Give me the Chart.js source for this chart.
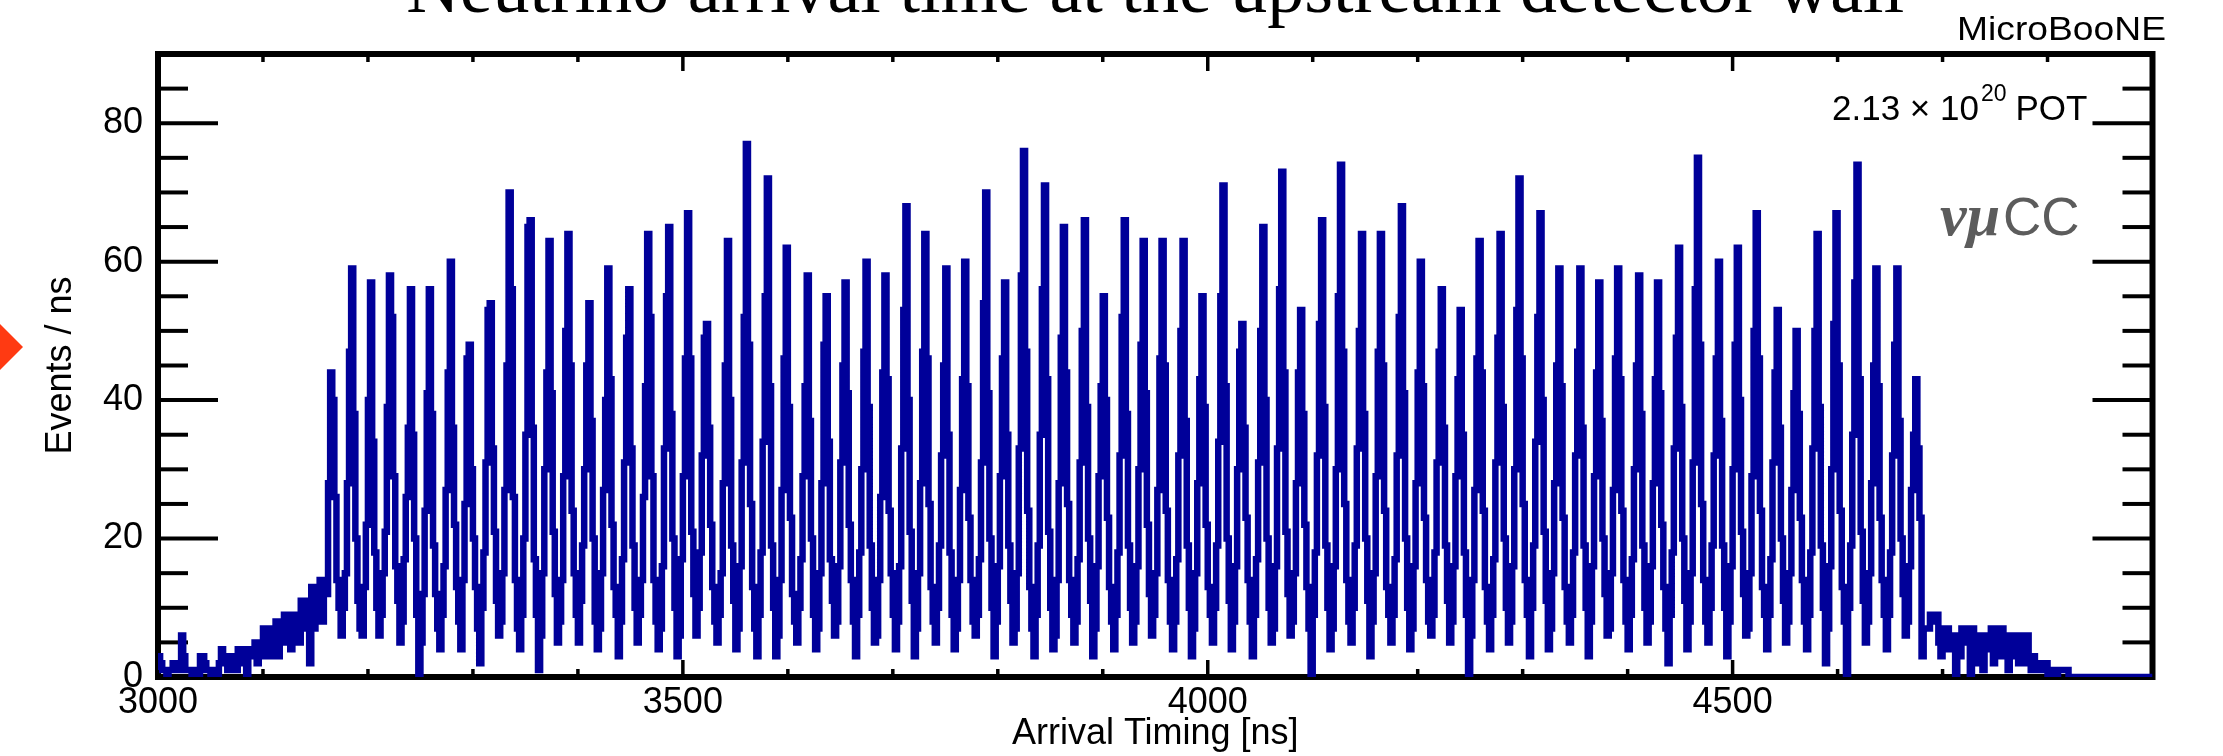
<!DOCTYPE html>
<html>
<head>
<meta charset="utf-8">
<title>Neutrino arrival time at the upstream detector wall</title>
<script src="https://cdn.jsdelivr.net/npm/chart.js@4.4.1/dist/chart.umd.min.js"></script>
<style>
  html, body { margin: 0; padding: 0; background: #fff; }
  canvas { display: block; }
</style>
</head>
<body>
<canvas id="timing" width="2223" height="756"></canvas>
<script>
// Histogram binning (ns)
const xStart = 3000;
const xEnd = 4900;
const binWidth = 2;

// Counts before the first bunch, 3000 - 3158 ns
const preSpill = [
  1, 3, 2, 1, 1,
  0, 1, 1, 2, 1, 1, 2,
  6, 3, 1,
  1, 1, 0, 1, 1, 0,
  3, 3, 2, 1,
  1, 0, 1, 1, 0, 2,
  4, 3, 2, 1,
  3, 2, 3, 1, 4, 3,
  4, 2, 0, 3, 4, 3,
  5, 2, 5, 3, 7,
  4, 7, 3, 7, 4,
  8, 3, 8, 5, 9, 6,
  9, 4, 9, 6, 9, 5,
  11, 7, 11, 8, 2,
  13, 7, 13, 9, 14
];

// One row per booster bunch (81 bunches), the peak bin is the 5th entry
const bunches = [
  [8, 13, 12, 28, 44, 40, 26, 14, 10, 6],
  [10, 15, 28, 47, 59, 38, 20, 11, 7],
  [6, 13, 22, 40, 57, 34, 18, 10, 6],
  [9, 15, 21, 39, 58, 52, 29, 16, 11, 5],
  [8, 17, 26, 36, 56, 35, 20, 9, 0],
  [5, 12, 24, 41, 56, 38, 19, 12, 7, 4],
  [9, 16, 27, 44, 60, 36, 22, 13, 8],
  [4, 14, 25, 46, 48, 30, 20, 13, 7, 2],
  [10, 18, 31, 53, 54, 33, 21, 11, 6],
  [8, 15, 27, 45, 70, 56, 26, 14, 7, 4],
  [9, 20, 35, 65, 66, 36, 17, 9, 1],
  [6, 15, 30, 44, 63, 41, 21, 12, 5],
  [8, 14, 29, 50, 64, 45, 24, 15, 9, 5],
  [11, 19, 30, 45, 54, 37, 20, 8, 4],
  [7, 15, 27, 40, 59, 43, 22, 13, 9, 3],
  [8, 17, 31, 49, 56, 33, 19, 10, 5],
  [9, 14, 26, 42, 64, 52, 29, 14, 8, 4],
  [7, 16, 33, 55, 65, 38, 20, 10, 3],
  [6, 17, 29, 46, 67, 46, 21, 12, 6],
  [10, 18, 32, 49, 51, 36, 22, 13, 8, 5],
  [9, 15, 28, 45, 63, 40, 19, 11, 4],
  [7, 16, 31, 52, 77, 48, 25, 13, 7, 3],
  [9, 18, 34, 55, 72, 42, 19, 10, 3],
  [6, 14, 27, 46, 62, 39, 23, 12, 8, 5],
  [10, 17, 29, 42, 58, 37, 20, 9, 4],
  [7, 15, 28, 48, 55, 34, 17, 11, 6],
  [8, 16, 31, 45, 57, 41, 22, 14, 8, 3],
  [9, 18, 30, 47, 60, 39, 19, 10, 5],
  [6, 14, 26, 44, 58, 43, 24, 15, 9, 4],
  [8, 16, 33, 53, 68, 40, 21, 11, 3],
  [7, 15, 28, 47, 64, 46, 25, 13, 8, 5],
  [10, 19, 32, 45, 59, 35, 18, 9, 4],
  [7, 14, 27, 43, 60, 42, 23, 14, 8, 6],
  [9, 17, 31, 54, 70, 41, 20, 10, 3],
  [8, 16, 29, 46, 57, 35, 19, 11, 5],
  [7, 15, 33, 58, 76, 47, 24, 13, 7, 3],
  [9, 19, 35, 56, 71, 43, 21, 10, 4],
  [6, 14, 28, 49, 65, 44, 25, 14, 9, 5],
  [8, 17, 31, 50, 66, 39, 20, 11, 3],
  [7, 16, 29, 42, 55, 40, 23, 13, 8, 4],
  [9, 18, 32, 52, 66, 38, 19, 10, 5],
  [8, 16, 30, 48, 63, 41, 22, 12, 6],
  [9, 15, 27, 46, 63, 45, 24, 14, 8, 4],
  [8, 17, 32, 50, 63, 37, 19, 10, 3],
  [7, 15, 28, 43, 55, 39, 22, 13, 9, 5],
  [10, 19, 34, 55, 71, 42, 20, 11, 4],
  [8, 16, 30, 47, 51, 36, 23, 14, 8, 3],
  [9, 17, 31, 50, 65, 40, 20, 10, 5],
  [7, 16, 33, 56, 73, 44, 21, 12, 6],
  [8, 15, 28, 44, 53, 38, 22, 13, 7, 0],
  [9, 18, 32, 51, 66, 39, 19, 10, 4],
  [7, 16, 30, 55, 74, 47, 25, 14, 8, 5],
  [10, 19, 33, 50, 64, 38, 20, 11, 3],
  [8, 15, 29, 47, 64, 45, 24, 13, 9, 5],
  [9, 17, 32, 52, 68, 41, 20, 10, 4],
  [7, 16, 28, 44, 60, 42, 23, 14, 8, 6],
  [9, 18, 31, 47, 56, 36, 19, 11, 5],
  [8, 16, 29, 43, 53, 35, 18, 9, 0],
  [6, 14, 27, 46, 63, 44, 24, 13, 8, 4],
  [9, 17, 31, 49, 64, 39, 20, 10, 5],
  [8, 16, 30, 53, 72, 46, 25, 14, 9, 3],
  [10, 19, 34, 52, 67, 40, 21, 11, 4],
  [7, 15, 28, 45, 59, 42, 23, 13, 8, 5],
  [9, 18, 32, 47, 59, 36, 19, 10, 3],
  [8, 16, 29, 44, 57, 37, 20, 12, 6],
  [7, 15, 27, 46, 59, 43, 24, 14, 8, 4],
  [9, 17, 30, 45, 58, 38, 19, 10, 5],
  [8, 16, 28, 43, 57, 41, 22, 13, 7, 2],
  [9, 18, 33, 49, 62, 39, 20, 11, 4],
  [8, 15, 31, 56, 75, 48, 25, 14, 8, 5],
  [10, 19, 32, 46, 60, 37, 19, 10, 3],
  [8, 16, 30, 48, 62, 40, 21, 12, 6],
  [7, 15, 29, 50, 67, 46, 24, 13, 9, 4],
  [9, 17, 31, 44, 53, 36, 20, 11, 5],
  [8, 15, 27, 41, 50, 38, 23, 14, 8, 4],
  [9, 18, 33, 50, 64, 39, 19, 10, 2],
  [7, 16, 30, 51, 67, 45, 24, 13, 8, 0],
  [10, 19, 35, 57, 74, 43, 21, 11, 5],
  [8, 15, 28, 45, 59, 42, 23, 14, 9, 4],
  [9, 18, 32, 48, 59, 37, 20, 12, 6],
  [8, 16, 27, 35, 43, 33, 23, 3, 7, 7]
];

// Counts after the last bunch, 4688 - 4900 ns
const afterSpill = [
  7, 9, 9, 8, 9, 5, 3, 7, 5, 7,
  4, 4, 6, 0, 6, 3, 7, 5, 7, 7,
  0, 7, 4, 6, 2, 6, 1, 6, 4, 6,
  7, 2, 7, 7, 3, 7, 5, 3, 1, 6,
  3, 6, 4, 2, 4, 6, 2, 6, 3, 1,
  3, 2, 2, 1, 2, 1, 2, 0, 1, 0,
  0, 0, 1, 1, 1, 1, 1, 0,
  0, 0, 0, 0, 0, 0, 0, 0, 0, 0,
  0, 0, 0, 0, 0, 0, 0, 0, 0, 0,
  0, 0, 0, 0, 0, 0, 0, 0, 0, 0,
  0, 0, 0, 0, 0, 0, 0, 0
];

const xTickLabels = [3000, 3500, 4000, 4500];
const yTickLabels = [0, 20, 40, 60, 80];
const xMinorStep = 100;
const yMinorStep = 5;

const counts = preSpill.concat(bunches.flat(), afterSpill);
const points = counts.map((c, i) => ({ x: xStart + i * binWidth, y: c }));
points.push({ x: xStart + counts.length * binWidth, y: counts[counts.length - 1] });

const sans = '"Liberation Sans", Arial, Helvetica, sans-serif';
const serif = '"Liberation Serif", "Times New Roman", serif';

// ROOT style frame: ticks pointing inwards on all four sides
const frameTicks = {
  id: 'frameTicks',
  beforeDatasetsDraw(chart) {
    const { ctx, chartArea: { left, right, top, bottom } } = chart;
    const xs = chart.scales.x;
    const ys = chart.scales.y;
    const seg = (x1, y1, x2, y2) => { ctx.beginPath(); ctx.moveTo(x1, y1); ctx.lineTo(x2, y2); ctx.stroke(); };
    ctx.save();
    ctx.strokeStyle = '#000';
    ctx.lineWidth = 4;
    for (let v = ys.min; v <= ys.max; v += yMinorStep) {
      const y = ys.getPixelForValue(v);
      const len = yTickLabels.includes(v) ? 60 : 30;
      seg(left, y, left + len, y);
      seg(right - len, y, right, y);
    }
    ctx.lineWidth = 3.5;
    for (let v = xs.min; v <= xs.max; v += xMinorStep) {
      const x = xs.getPixelForValue(v);
      const len = xTickLabels.includes(v) ? 17 : 8;
      seg(x, bottom, x, bottom - len);
      seg(x, top, x, top + len);
    }
    ctx.lineWidth = 6;
    ctx.strokeRect(left, top, right - left, bottom - top);
    ctx.restore();
  }
};

// Title, labels and the marker at the left edge
const annotations = {
  id: 'annotations',
  afterDraw(chart) {
    const ctx = chart.ctx;
    const { left, right } = chart.chartArea;
    ctx.save();
    ctx.fillStyle = '#000';
    ctx.textBaseline = 'alphabetic';

    ctx.font = '74px ' + serif;
    ctx.textAlign = 'center';
    ctx.fillText('Neutrino arrival time at the upstream detector wall', (left + right) / 2, 12);

    // experiment tag, right aligned above the frame
    ctx.textAlign = 'left';
    ctx.font = '33px ' + sans;
    const tag = 'MicroBooNE';
    const tagW = ctx.measureText(tag).width;
    ctx.save();
    ctx.translate(1957, 40);
    ctx.scale(209 / tagW, 1);
    ctx.fillText(tag, 0, 0);
    ctx.restore();

    // exposure
    ctx.font = '35px ' + sans;
    const base = '2.13 \u00d7 10';
    ctx.fillText(base, 1832, 120);
    let x = 1832 + ctx.measureText(base).width + 2;
    ctx.font = '23px ' + sans;
    ctx.fillText('20', x, 101);
    x += ctx.measureText('20').width + 9;
    ctx.font = '35px ' + sans;
    ctx.fillText('POT', x, 120);

    // selection label
    ctx.fillStyle = '#5c5c5c';
    ctx.font = 'italic bold 60px ' + serif;
    ctx.fillText('\u03bd\u03bc', 1940, 235);
    x = 1940 + ctx.measureText('\u03bd\u03bc').width + 3;
    ctx.font = '53px ' + sans;
    ctx.fillText('CC', x, 235);

    ctx.fillStyle = '#ff3a12';
    ctx.beginPath();
    ctx.moveTo(0, 324);
    ctx.lineTo(23, 347);
    ctx.lineTo(0, 370);
    ctx.closePath();
    ctx.fill();
    ctx.restore();
  }
};

new Chart(document.getElementById('timing'), {
  type: 'line',
  data: {
    datasets: [{
      label: 'Events',
      data: points,
      borderColor: '#000099',
      borderWidth: 6.5,
      stepped: 'after',
      pointRadius: 0,
      fill: false,
      clip: 0,
      borderJoinStyle: 'miter',
      borderCapStyle: 'butt'
    }]
  },
  options: {
    responsive: false,
    animation: false,
    events: [],
    layout: { padding: { top: 54, right: 70.5, left: 0, bottom: 0 } },
    plugins: {
      legend: { display: false },
      tooltip: { enabled: false },
      title: { display: false }
    },
    scales: {
      x: {
        type: 'linear',
        min: xStart,
        max: xEnd,
        grid: { display: false, drawTicks: false },
        border: { display: false },
        afterBuildTicks: s => { s.ticks = xTickLabels.map(v => ({ value: v })); },
        afterFit: s => { s.height = 79; },
        ticks: {
          color: '#000',
          font: { family: sans, size: 36 },
          padding: 4,
          maxRotation: 0,
          autoSkip: false,
          callback: v => String(v)
        },
        title: {
          display: true,
          text: 'Arrival Timing [ns]',
          color: '#000',
          font: { family: sans, size: 36 },
          padding: { top: 0, bottom: 0 }
        }
      },
      y: {
        type: 'linear',
        min: 0,
        max: 90,
        grid: { display: false, drawTicks: false },
        border: { display: false },
        afterBuildTicks: s => { s.ticks = yTickLabels.map(v => ({ value: v })); },
        afterFit: s => { s.width = 158; },
        ticks: {
          color: '#000',
          font: { family: sans, size: 36 },
          padding: 15,
          callback: v => String(v)
        },
        title: {
          display: true,
          text: 'Events / ns',
          color: '#000',
          font: { family: sans, size: 36 },
          padding: { top: 39, bottom: 0 }
        }
      }
    }
  },
  plugins: [frameTicks, annotations]
});
</script>
</body>
</html>
